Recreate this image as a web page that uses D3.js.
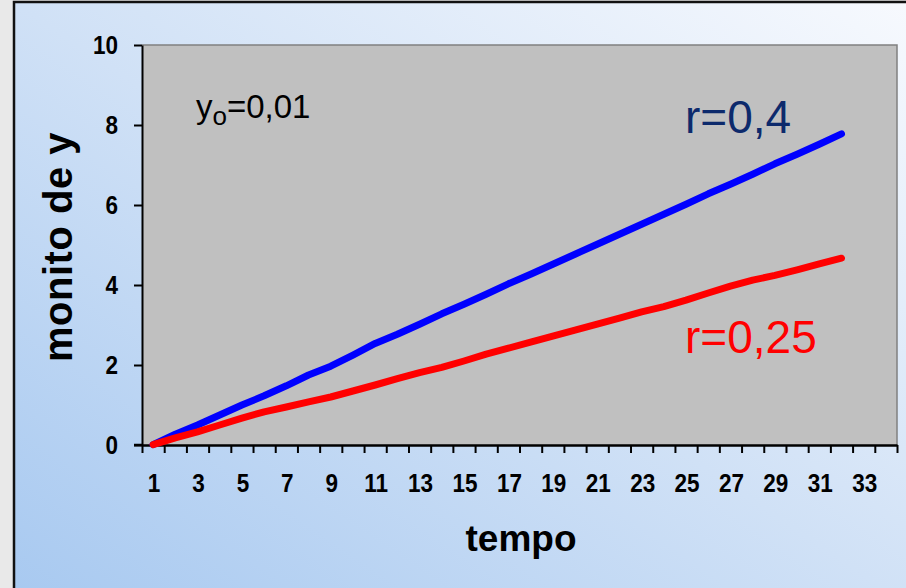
<!DOCTYPE html>
<html>
<head>
<meta charset="utf-8">
<script src="https://cdn.jsdelivr.net/npm/d3@7"></script>
<style>
  html, body { margin: 0; padding: 0; background: #e9e9e9; overflow: hidden; }
  text { font-family: Arial, "Liberation Sans", sans-serif; }
</style>
</head>
<body>
<div id="chart"></div>
<script>
// data
let tempo = d3.range(1, 33);
let rValues = ["0,4", "0,25"];
let serieR04 = [0.01, 0.27, 0.5, 0.75, 1.0, 1.23, 1.48, 1.75, 1.97, 2.25, 2.54, 2.77, 3.02, 3.28, 3.52, 3.77,
  4.03, 4.27, 4.52, 4.77, 5.02, 5.27, 5.52, 5.77, 6.02, 6.28, 6.52, 6.77, 7.03, 7.27, 7.52, 7.78];
let serieR025 = [0.01, 0.18, 0.33, 0.5, 0.67, 0.83, 0.95, 1.08, 1.2, 1.35, 1.5, 1.66, 1.81, 1.94, 2.1, 2.27,
  2.42, 2.57, 2.72, 2.87, 3.02, 3.17, 3.33, 3.46, 3.62, 3.8, 3.97, 4.12, 4.24, 4.38, 4.53, 4.67];
let yTicks = [0, 2, 4, 6, 8, 10];
let xLabels = d3.range(1, 35, 2);   // 1,3,...,33
let nCat = 34;

const W = 906, H = 588;
const svg = d3.select("#chart").append("svg")
    .attr("width", W)
    .attr("height", H);

// gradient of the frame (blue bottom-left -> white top-right)
let grad = svg.append("defs").append("linearGradient")
    .attr("id", "frameGrad")
    .attr("x1", 0).attr("y1", 1)
    .attr("x2", 1).attr("y2", 0);
grad.append("stop").attr("offset", "0%").attr("stop-color", "#a6c8f0");
grad.append("stop").attr("offset", "50%").attr("stop-color", "#d0e1f6");
grad.append("stop").attr("offset", "100%").attr("stop-color", "#f8fafe");

svg.append("rect")
    .attr("x", 14).attr("y", 2)
    .attr("width", 920).attr("height", 620)
    .attr("fill", "url(#frameGrad)")
    .attr("stroke", "#111")
    .attr("stroke-width", 2.5);

const plot = {left: 142, right: 897, top: 45, bottom: 445};

let x = d3.scaleLinear()
    .domain([0.5, nCat + 0.5])
    .range([plot.left, plot.right]);

let y = d3.scaleLinear()
    .domain([0, 10])
    .range([plot.bottom, plot.top]);

// plot area
svg.append("rect")
    .attr("x", plot.left).attr("y", plot.top)
    .attr("width", plot.right - plot.left)
    .attr("height", plot.bottom - plot.top)
    .attr("fill", "#c0c0c0");

svg.append("path")
    .attr("d", `M${plot.left},${plot.top}H${plot.right}V${plot.bottom}`)
    .attr("fill", "none")
    .attr("stroke", "#808080")
    .attr("stroke-width", 1.5);

// Y axis (labels drawn apart, they are a bit condensed in the original)
let yAxis = svg.append("g")
    .attr("transform", `translate(${plot.left},0)`)
    .call(d3.axisLeft(y).tickValues(yTicks).tickSize(8).tickFormat("").tickSizeOuter(0));
yAxis.select(".domain").attr("stroke", "#000").attr("stroke-width", 2);
yAxis.selectAll(".tick line").attr("stroke", "#000").attr("stroke-width", 2);

const sx = 0.9;
svg.append("g").selectAll("text")
    .data(yTicks)
    .enter()
    .append("text")
      .attr("transform", d => `translate(118,${y(d)}) scale(${sx},1)`)
      .attr("dy", "0.36em")
      .attr("text-anchor", "end")
      .attr("font-size", 25)
      .attr("font-weight", "bold")
      .text(d => d);

// X axis: tick marks between categories, labels at odd categories
let xAxis = svg.append("g")
    .attr("transform", `translate(0,${plot.bottom})`)
    .call(d3.axisBottom(x).tickValues(d3.range(0.5, nCat + 1, 1)).tickSize(8).tickFormat("").tickSizeOuter(0));
xAxis.select(".domain").attr("stroke", "#000").attr("stroke-width", 2.5);
xAxis.selectAll(".tick line").attr("stroke", "#000").attr("stroke-width", 2);

svg.append("line")
    .attr("x1", plot.left - 8).attr("x2", plot.left)
    .attr("y1", plot.bottom).attr("y2", plot.bottom)
    .attr("stroke", "#000").attr("stroke-width", 2.5);

svg.append("g").selectAll("text")
    .data(xLabels)
    .enter()
    .append("text")
      .attr("transform", d => `translate(${x(d) + 1},492) scale(${sx},1)`)
      .attr("text-anchor", "middle")
      .attr("font-size", 25)
      .attr("font-weight", "bold")
      .text(d => d);

// series lines
let line = d3.line()
    .x((d, i) => x(tempo[i]))
    .y(d => y(d));

svg.append("path")
    .datum(serieR04)
    .attr("d", line)
    .attr("fill", "none")
    .attr("stroke", "#0000ff")
    .attr("stroke-width", 7)
    .attr("stroke-linecap", "round")
    .attr("stroke-linejoin", "round");

svg.append("path")
    .datum(serieR025)
    .attr("d", line)
    .attr("fill", "none")
    .attr("stroke", "#ff0000")
    .attr("stroke-width", 7)
    .attr("stroke-linecap", "round")
    .attr("stroke-linejoin", "round");

// annotations
let y0txt = svg.append("text")
    .attr("x", 196)
    .attr("y", 118)
    .attr("font-size", 33)
    .attr("fill", "#000");
y0txt.append("tspan").text("y");
y0txt.append("tspan").attr("font-size", 26).attr("dy", 7).text("o");
y0txt.append("tspan").attr("dy", -7).text("=0,01");

svg.append("text")
    .attr("x", 685)
    .attr("y", 133)
    .attr("font-size", 46)
    .attr("fill", "#0d2a6c")
    .text("r=" + rValues[0]);

svg.append("text")
    .attr("x", 685)
    .attr("y", 353)
    .attr("font-size", 46)
    .attr("fill", "#ff0000")
    .text("r=" + rValues[1]);

// axis titles
svg.append("text")
    .attr("transform", "translate(521,551)")
    .attr("text-anchor", "middle")
    .attr("font-size", 37)
    .attr("font-weight", "bold")
    .text("tempo");

svg.append("text")
    .attr("transform", "translate(72,247) rotate(-90)")
    .attr("text-anchor", "middle")
    .attr("font-size", 40)
    .attr("font-weight", "bold")
    .attr("letter-spacing", 0.5)
    .text("monito de y");
</script>
</body>
</html>
